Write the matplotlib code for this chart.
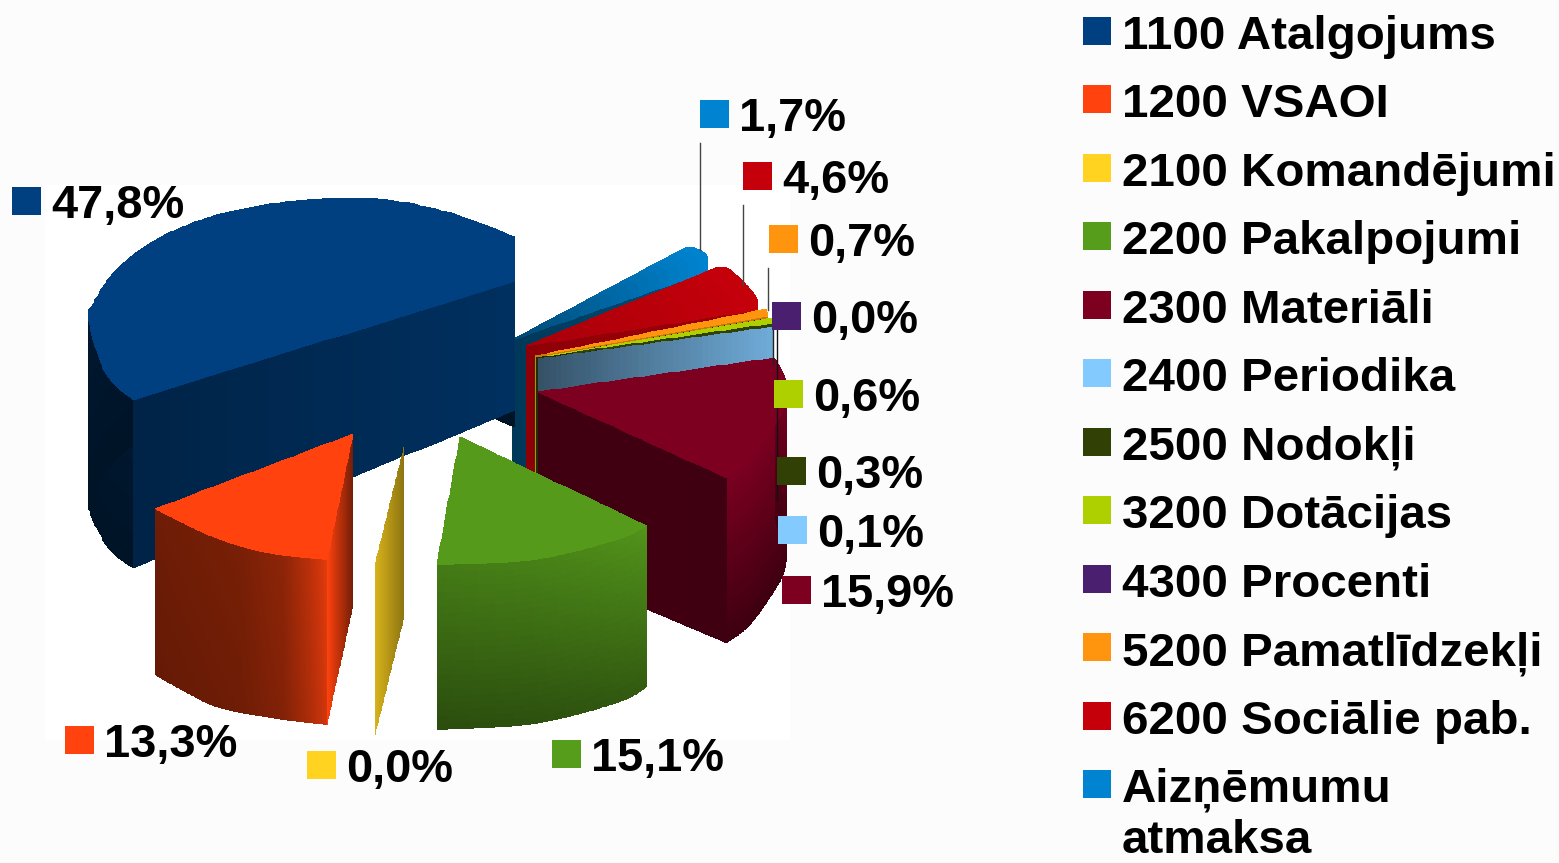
import matplotlib
matplotlib.use("Agg")
import matplotlib.pyplot as plt
import numpy as np
from matplotlib.colors import to_rgb
from matplotlib.patches import Rectangle

CATEGORIES = ["1100 Atalgojums", "1200 VSAOI", "2100 Komandējumi", "2200 Pakalpojumi",
              "2300 Materiāli", "2400 Periodika", "2500 Nodokļi", "3200 Dotācijas",
              "4300 Procenti", "5200 Pamatlīdzekļi", "6200 Sociālie pab.", "Aizņēmumu\natmaksa"]
VALUES = [47.8, 13.3, 0.0, 15.1, 15.9, 0.1, 0.3, 0.6, 0.0, 0.7, 4.6, 1.7]
COLORS = ["#004080", "#FF420E", "#FFD320", "#579D1C", "#7E0021", "#83CAFF",
          "#314004", "#AECF00", "#4B1F6F", "#FF950E", "#C5000B", "#0084D1"]

# layout of the exploded, perspective pie, in pixels
APEX = [(515, 281), (353, 434), (404, 447), (460, 437), (538, 392), (538, 359),
        (536, 358), (535.5, 358), (535.5, 358), (535, 356), (526, 346), (512, 340)]
# rim of each slice seen from its apex, spread evenly over the slice's angle
RIM = [
    [(0, -44), (-65, -68), (-135, -82), (-198, -82), (-268, -73), (-328, -56), (-375, -31),
     (-405, -4), (-422, 23), (-427, 36), (-415, 80), (-402, 102), (-382, 119)],
    [(-198, 75), (-140, 103), (-86, 119), (-26, 126)],
    [(-29, 118)],
    [(-23, 128), (73, 123), (157, 103), (187, 89)],
    [(189, 86), (212, 68), (237, 33), (247, 13), (248, -12), (237, -34)],
    [(235, -32), (235, -32)],
    [(237, -31), (237, -34)],
    [(237, -34), (237, -40)],
    [(236, -40)],
    [(233, -40), (232, -47)],
    [(231, -36), (231, -48), (219, -63), (202, -78), (192, -79)],
    [(195, -68), (195, -85), (181, -93), (173, -92)],
]
WALL = [
    [190] * 10 + [173, 170, 168],
    [166, 169, 164, 165],
    [170],
    [165, 164, 163, 161],
    [165, 165, 165, 165, 165, 165],
    [100], [100], [100], [100], [100], [100], [100],
]
APEX_WALL = [129, 172, 170, 165, 172, 100, 125, 125, 125, 125, 130, 140]
CUT_EDGE = ["end", "end", "end", None, "start", "start", "start", "start",
            "start", "start", "start", "start"]
# shading: top face apex/rim, wall along the rim, wall darkening downwards, cut face apex/rim
TOP_SHADE = [(1, 1), (1, 1), (1, 1), (0.98, 0.98), (1, 1), (1, 1), (1, 1), (1, 1),
             (1, 1), (1, 1), (0.85, 1), (0.55, 1)]
WALL_SHADE = [[0.38, 0.38], [0.43, 0.45, 0.47, 0.55, 0.9], [0.7], [0.78, 0.82, 0.9, 0.95],
              [0.97, 0.97, 1.0, 1.0], [1], [1], [1], [1], [1], [1], [1]]
WALL_DROP = [0.2, 0.08, 0, 0.38, 0.5, 0, 0, 0, 0, 0, 0, 0]
CUT_SHADE = [(0.75, 0.55), (0.45, 1.0), (0.55, 0.85), (0.6, 0.6), (0.52, 0.5), (0.4, 0.85),
             (0.7, 0.7), (0.8, 0.8), (0.6, 0.6), (0.8, 0.8), (0.72, 0.8), (0.42, 0.6)]
DRAW_ORDER = [11, 10, 9, 8, 7, 6, 5, 4, 0, 1, 2, 3]

LABEL_POS = [(12, 201), (65, 740), (307, 765), (552, 754), (782, 590), (778, 530),
             (777, 471), (774, 394), (772, 316), (769, 239), (743, 176), (700, 114)]
LEADERS = [((700, 143), (700, 250), "#444444"), ((743, 205), (743, 285), "#444444"),
           ((768, 268), (768, 310), "#444444"), ((773, 320), (773, 365), "#222222"),
           ((777, 325), (777, 442), "#111111"), ((777.5, 443), (777.5, 500), "#111111")]

plt.rcParams["font.family"] = ["Liberation Sans", "DejaVu Sans"]
plt.rcParams["font.weight"] = "bold"

fig = plt.figure(figsize=(15.59, 8.63), dpi=100, facecolor="#FCFCFC")
ax = fig.add_axes([0, 0, 1, 1])
ax.set_xlim(0, 1559)
ax.set_ylim(863, 0)
ax.axis("off")
ax.add_patch(Rectangle((45, 185), 745, 555, facecolor="white", edgecolor="none", zorder=0))

edges = np.r_[0, np.cumsum(VALUES)] / np.sum(VALUES) * 360


def along(theta, start, end, knots):
    return np.interp(theta, np.linspace(start, end, len(knots)), knots)


def along_smooth(theta, start, end, knots):
    # catmull-rom through the knots, so the rim has no corners
    if len(knots) < 3:
        return along(theta, start, end, knots)
    p = np.r_[knots[0], knots, knots[-1]].astype(float)
    t = (theta - start) / (end - start) * (len(knots) - 1)
    i = np.minimum(t.astype(int), len(knots) - 2)
    u = t - i
    p0, p1, p2, p3 = p[i], p[i + 1], p[i + 2], p[i + 3]
    return 0.5 * (2 * p1 + (p2 - p0) * u + (2 * p0 - 5 * p1 + 4 * p2 - p3) * u ** 2
                  + (3 * p1 - p0 - 3 * p2 + p3) * u ** 3)


def mesh(x, y, shade, color):
    rgb = np.clip(shade[..., None] * np.array(to_rgb(color)), 0, 1)
    ax.pcolormesh(x, y, rgb, shading="flat", zorder=1)


def draw_slice(k, n=160, m=24):
    start, end = edges[k], edges[k + 1]
    theta = np.linspace(start, end, n + 1)
    ax0, ay0 = APEX[k]
    rim_x = ax0 + along_smooth(theta, start, end, np.array([p[0] for p in RIM[k]]))
    rim_y = ay0 + along_smooth(theta, start, end, np.array([p[1] for p in RIM[k]]))
    wall = along(theta, start, end, WALL[k])
    color = COLORS[k]
    mid = (theta[:-1] + theta[1:]) / 2

    # outer wall, darker towards the bottom
    v = np.linspace(0, 1, m + 1)
    wx = np.tile(rim_x, (m + 1, 1))
    wy = rim_y + np.outer(v, wall)
    ws = along(mid, start, end, WALL_SHADE[k])
    vm = (v[:-1] + v[1:]) / 2
    mesh(wx, wy, np.outer(1 - WALL_DROP[k] * vm, ws), color)

    # cut face at the visible straight edge
    if CUT_EDGE[k] is not None:
        i = 0 if CUT_EDGE[k] == "start" else -1
        r = np.linspace(0, 1, 41)
        cx = np.tile(ax0 + r * (rim_x[i] - ax0), (m + 1, 1))
        top = ay0 + r * (rim_y[i] - ay0)
        height = APEX_WALL[k] + r * (wall[i] - APEX_WALL[k])
        cy = top + np.outer(v, height)
        rm = (r[:-1] + r[1:]) / 2
        cs = CUT_SHADE[k][0] + rm * (CUT_SHADE[k][1] - CUT_SHADE[k][0])
        mesh(cx, cy, np.tile(cs, (m, 1)), color)

    # top face, from apex to rim
    q = np.linspace(0, 1, 21)
    tx = ax0 + np.outer(q, rim_x - ax0)
    ty = ay0 + np.outer(q, rim_y - ay0)
    qm = (q[:-1] + q[1:]) / 2
    ts = TOP_SHADE[k][0] + qm * (TOP_SHADE[k][1] - TOP_SHADE[k][0])
    mesh(tx, ty, np.tile(ts[:, None], (1, n)), color)


for k in DRAW_ORDER:
    draw_slice(k)

for p0, p1, c in LEADERS:
    ax.plot([p0[0], p1[0]], [p0[1], p1[1]], color=c, linewidth=1.0, zorder=2)

# data labels
for (x, y), val, c in zip(LABEL_POS, VALUES, COLORS):
    ax.add_patch(Rectangle((x, y - 14), 29, 28, facecolor=c, edgecolor="none", zorder=3))
    ax.text(x + 39, y + 17, f"{val:.1f}%".replace(".", ","), fontsize=33.8,
            va="baseline", ha="left", color="black", zorder=4)

# legend
for i, (name, c) in enumerate(zip(CATEGORIES, COLORS)):
    y = 49 + 68.45 * i
    ax.add_patch(Rectangle((1083, y - 32), 28, 28, facecolor=c, edgecolor="none", zorder=3))
    first, *rest = name.split("\n")
    ax.text(1122, y, first, fontsize=34.2, va="baseline", ha="left", color="black", zorder=4)
    for line in rest:
        ax.text(1122, y + 51, line, fontsize=34.2, va="baseline", ha="left", color="black", zorder=4)

fig.savefig("out.png", dpi=100, facecolor=fig.get_facecolor())
